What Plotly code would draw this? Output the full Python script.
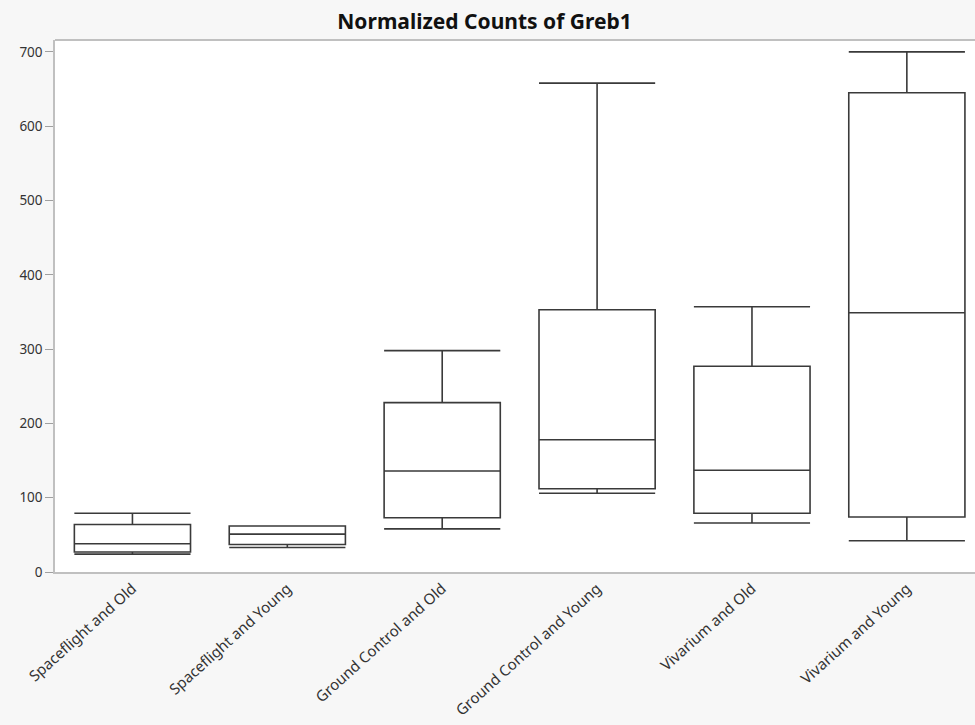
import plotly.graph_objects as go

categories = ["Spaceflight and Old", "Spaceflight and Young", "Ground Control and Old",
              "Ground Control and Young", "Vivarium and Old", "Vivarium and Young"]
lower_whisker = [24, 33, 58, 106, 66, 42]
q1_values = [27, 37, 73, 112, 79, 74]
median_values = [38, 51, 136, 178, 137, 349]
q3_values = [64, 62, 228, 353, 277, 645]
upper_whisker = [79, 62, 298, 658, 357, 700]
y_ticks = [0, 100, 200, 300, 400, 500, 600, 700]

fig = go.Figure()
fig.add_trace(go.Box(
    x=categories,
    q1=q1_values, median=median_values, q3=q3_values,
    lowerfence=lower_whisker, upperfence=upper_whisker,
    boxpoints=False,
    width=0.75,
    whiskerwidth=1,
    fillcolor="white",
    line=dict(color="#3a3a3a", width=1.6),
    hoverinfo="skip",
    showlegend=False,
))

fig.update_layout(
    width=975, height=725,
    margin=dict(l=55, r=0, t=40, b=153),
    paper_bgcolor="#f7f7f7",
    plot_bgcolor="white",
    font=dict(family="Noto Sans, Open Sans, sans-serif", size=13, color="#333333"),
    title=dict(text="<b>Normalized Counts of Greb1</b>", x=0.497, xanchor="center",
               y=0.97, yanchor="middle",
               font=dict(size=21, color="#111111")),
)
fig.update_xaxes(
    type="category",
    categoryorder="array", categoryarray=categories,
    range=[-0.5, 5.44],
    tickangle=-42,
    automargin=False,
    showgrid=False, zeroline=False,
    showline=True, linecolor="#c0c0c0", linewidth=2,
    ticks="", tickfont=dict(size=15, color="#333333"),
    mirror=False,
)
fig.update_yaxes(
    range=[0, 716],
    tickvals=y_ticks,
    automargin=False,
    showgrid=False, zeroline=False,
    showline=True, linecolor="#c0c0c0", linewidth=1.5,
    ticks="outside", ticklen=8, tickcolor="#a0a0a0", tickwidth=1,
    tickfont=dict(size=13.5, color="#333333"),
)
# top frame line
fig.add_shape(type="line", xref="paper", yref="paper", x0=0, x1=1, y0=1, y1=1,
              line=dict(color="#c0c0c0", width=2))

fig.write_html("out.html",
               config={"displayModeBar": False},
               post_script="document.body.style.margin='0';document.body.style.background='#f7f7f7';")
